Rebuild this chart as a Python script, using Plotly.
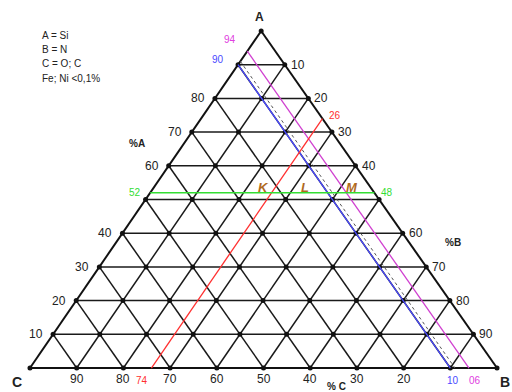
import plotly.graph_objects as go

# Triangle geometry (cartesian): C at (0,0), B at (1,0), A at (APEX_X, 1)
APEX_X = 0.495

GRID_STEPS = [10, 20, 30, 40, 50, 60, 70, 80, 90]
LEFT_TICKS = [80, 70, 60, 40, 30, 20, 10]          # %A on the C-A edge
RIGHT_TICKS = [10, 20, 30, 40, 60, 70, 80, 90]     # %B on the A-B edge
BOTTOM_TICKS = [90, 80, 70, 60, 50, 40, 30, 20]    # %C on the C-B edge

# reference lines
GREEN_A = 52
RED_B = 26
BLUE_C = 10
MAGENTA_C = 6
SHADOW_C = 9

POINT_NAMES = ["K", "L", "M"]
POINT_A = [53.5, 53.5, 53.5]
POINT_B = [23.5, 32.5, 42.5]

LEGEND_LINES = ["A = Si", "B = N", "C = O; C", "Fe; Ni <0,1%"]

X0, X1 = -0.0642, 1.0321
Y0, Y1 = -0.0712, 1.092
FONT = "Liberation Sans, Arial, sans-serif"


def xy(a, b):
    return b / 100 + APEX_X * a / 100, a / 100


def seg(p, q):
    (x1, y1), (x2, y2) = xy(*p), xy(*q)
    return [x1, x2, None], [y1, y2, None]


fig = go.Figure()

# ── grid ──────────────────────────────────────────────────────────────────────
gx, gy = [], []
for v in GRID_STEPS:
    for p, q in [((v, 0), (v, 100 - v)),          # constant A
                 ((0, v), (100 - v, v)),          # constant B
                 ((100 - v, 0), (0, 100 - v))]:   # constant C
        sx, sy = seg(p, q)
        gx += sx
        gy += sy
fig.add_trace(go.Scatter(x=gx, y=gy, mode="lines",
                         line=dict(color="#1a1a1a", width=1.5), hoverinfo="skip"))

ex, ey = [], []
for p, q in [((0, 0), (0, 100)), ((0, 100), (100, 0)), ((100, 0), (0, 0))]:
    sx, sy = seg(p, q)
    ex += sx
    ey += sy
fig.add_trace(go.Scatter(x=ex, y=ey, mode="lines",
                         line=dict(color="#111", width=2), hoverinfo="skip"))

# dots at the lattice nodes
nx, ny = [], []
for a in range(0, 101, 10):
    for b in range(0, 101 - a, 10):
        x, y = xy(a, b)
        nx.append(x)
        ny.append(y)
fig.add_trace(go.Scatter(x=nx, y=ny, mode="markers",
                         marker=dict(color="#111", size=5), hoverinfo="skip"))

# ── coloured reference lines ─────────────────────────────────────────────────
ref_lines = [
    ((100 - SHADOW_C, 0), (0, 100 - SHADOW_C), "#555", 1, "dot"),
    ((100 - BLUE_C, 0), (0, 100 - BLUE_C), "#4a4aff", 1.3, "solid"),
    ((100 - MAGENTA_C, 0), (0, 100 - MAGENTA_C), "#d040d0", 1.3, "solid"),
    ((100 - RED_B, RED_B), (0, RED_B), "#ff3030", 1.3, "solid"),
    ((GREEN_A, 0), (GREEN_A, 100 - GREEN_A), "#33dd33", 1.6, "solid"),
]
for p, q, col, w, dash in ref_lines:
    sx, sy = seg(p, q)
    fig.add_trace(go.Scatter(x=sx, y=sy, mode="lines",
                             line=dict(color=col, width=w, dash=dash), hoverinfo="skip"))

# ── labels ───────────────────────────────────────────────────────────────────
ann = []


def label(a, b, text, color="#222", xanchor="center", yanchor="middle",
          dx=0, dy=0, size=11, bold=False):
    x, y = xy(a, b)
    ann.append(dict(x=x, y=y, xref="x", yref="y", text=f"<b>{text}</b>" if bold else text,
                    showarrow=False, xanchor=xanchor, yanchor=yanchor,
                    xshift=dx, yshift=dy, font=dict(family=FONT, size=size, color=color)))


for v in LEFT_TICKS:
    label(v, 0, str(v), xanchor="right", dx=-8, size=12)
for v in RIGHT_TICKS:
    label(100 - v, v, str(v), xanchor="left", dx=4, size=12)
for v in BOTTOM_TICKS:
    label(0, 100 - v, str(v), yanchor="top", dy=-2, size=12)

label(GREEN_A, 0, str(GREEN_A), color="#33dd33", xanchor="right", dx=-7, size=10)
label(GREEN_A, 100 - GREEN_A, str(100 - GREEN_A), color="#33dd33", xanchor="left", dx=5, size=10)
label(100 - RED_B, RED_B, str(RED_B), color="#ff3030", dx=13, dy=3, size=10)
label(0, RED_B, str(100 - RED_B), color="#ff3030", yanchor="top", dx=-9, dy=-5, size=10)
label(100 - BLUE_C, 0, str(100 - BLUE_C), color="#4a4aff", dx=-20, dy=5, size=10)
label(0, 100 - BLUE_C, f"{BLUE_C:02d}", color="#4a4aff", yanchor="top", dx=3, dy=-5, size=10)
label(100 - MAGENTA_C, 0, str(100 - MAGENTA_C), color="#e040e0", dx=-17, dy=12, size=10)
label(0, 100 - MAGENTA_C, f"{MAGENTA_C:02d}", color="#e040e0", yanchor="top", dx=6, dy=-5, size=10)

for name, a, b in zip(POINT_NAMES, POINT_A, POINT_B):
    label(a, b, f"<i>{name}</i>", color="#b06a1e", size=13, bold=True)


def paper(px, py, text, size=11, xanchor="center", bold=False):
    ann.append(dict(x=px / 512, y=1 - py / 392, xref="paper", yref="paper",
                    text=f"<b>{text}</b>" if bold else text, showarrow=False,
                    xanchor=xanchor, yanchor="middle",
                    font=dict(family=FONT, size=size, color="#222")))


paper(259, 17, "A", size=12, bold=True)
paper(505, 382, "B", size=14, bold=True)
paper(17, 382, "C", size=14, bold=True)
paper(137, 143, "%A", size=10, bold=True)
paper(453, 242, "%B", size=10, bold=True)
paper(336, 386, "% C", size=10, bold=True)
for i, t in enumerate(LEGEND_LINES):
    paper(40, 35 + 14.5 * i, t, size=10, xanchor="left")

fig.update_layout(
    width=512, height=392,
    margin=dict(l=0, r=0, t=0, b=0),
    showlegend=False,
    annotations=ann,
    xaxis=dict(range=[X0, X1], visible=False, fixedrange=True),
    yaxis=dict(range=[Y0, Y1], visible=False, fixedrange=True),
    paper_bgcolor="white",
    plot_bgcolor="white",
)

# the page body has a default 8px margin; drop it so the figure fills the window
fig.write_html("out.html", config={"displayModeBar": False},
               post_script="document.body.style.margin='0px';")
